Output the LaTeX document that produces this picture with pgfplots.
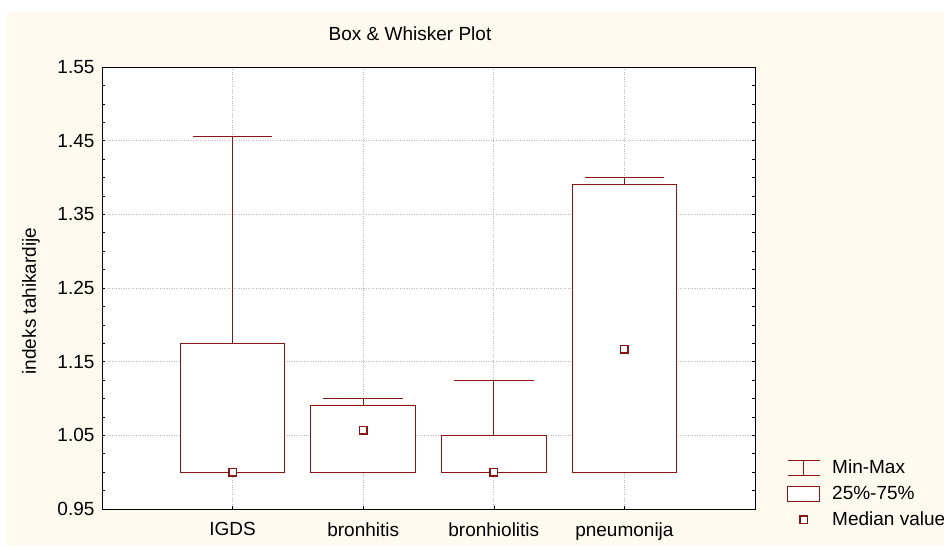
\documentclass[border=0pt]{standalone}
\usepackage{fontspec}
\setmainfont{Liberation Sans}
\usepackage{pgfplots}
\pgfplotsset{compat=1.18}
\usepgfplotslibrary{statistics}

\definecolor{bgcream}{RGB}{254,250,240}
\definecolor{boxred}{RGB}{140,20,20}
\definecolor{gridgray}{RGB}{185,185,185}

\newcommand{\chartfont}{\fontsize{19}{22}\selectfont}

\begin{document}
\begin{tikzpicture}
\useasboundingbox (0,0) rectangle (944pt,546pt);
\fill[bgcream] (7pt,0) rectangle (944pt,534pt);
\node[font=\chartfont] at (410pt,512pt) {Box \& Whisker Plot};
\node[font=\chartfont, rotate=90] at (31pt,245pt) {indeks tahikardije};

\begin{axis}[
    at={(102pt,37pt)}, anchor=south west,
    scale only axis, width=653pt, height=442pt,
    xmin=-1, xmax=4,
    ymin=0.95, ymax=1.55,
    xtick={0,1,2,3},
    xticklabels={IGDS,bronhitis,bronhiolitis,pneumonija},
    ytick={0.95,1.05,1.15,1.25,1.35,1.45,1.55},
    minor y tick num=3,
    xtick pos=bottom,
    tick align=inside,
    major tick length=3pt, minor tick length=3pt,
    tick style={black, line width=0.6pt},
    axis line style={black, line width=0.9pt},
    axis background/.style={fill=white},
    grid=major,
    major grid style={gridgray, dotted, line width=0.7pt},
    tick label style={font=\chartfont},
    /pgf/number format/assume math mode=true,
    yticklabel style={xshift=-4pt, /pgf/number format/.cd, fixed, fixed zerofill, precision=2},
    xticklabel style={yshift=-10pt},
    boxplot/draw direction=y,
    boxplot/box extend=0.8,
    boxplot/whisker extend=0.61,
    boxplot/every box/.style={fill=white},
    boxplot/draw/median/.code={},
    legend style={draw=none, fill=none, inner sep=0pt,
        at={(axis description cs:1.049,0.116)}, anchor=north west,
        font=\chartfont, row sep=7pt, column sep=10pt},
    legend cell align=left,
]

% boxes: min, q1, median, q3, max
\addplot[boxred, line width=1pt, forget plot,
    boxplot prepared={draw position=0, lower whisker=1.0, lower quartile=1.0,
        median=1.0, upper quartile=1.175, upper whisker=1.455}] coordinates {};
\addplot[boxred, line width=1pt, forget plot,
    boxplot prepared={draw position=1, lower whisker=1.0, lower quartile=1.0,
        median=1.057, upper quartile=1.09, upper whisker=1.10}] coordinates {};
\addplot[boxred, line width=1pt, forget plot,
    boxplot prepared={draw position=2, lower whisker=1.0, lower quartile=1.0,
        median=1.0, upper quartile=1.05, upper whisker=1.125}] coordinates {};
\addplot[boxred, line width=1pt, forget plot,
    boxplot prepared={draw position=3, lower whisker=1.0, lower quartile=1.0,
        median=1.167, upper quartile=1.39, upper whisker=1.40}] coordinates {};

\addlegendimage{legend image code/.code={
    \path[draw=none] (0pt,0pt) -- (32pt,0pt);
    \draw[boxred, line width=1pt] (0pt,7.5pt) -- (32pt,7.5pt)
        (0pt,-7.5pt) -- (32pt,-7.5pt) (16pt,-7.5pt) -- (16pt,7.5pt);}}
\addlegendentry{Min-Max}
\addlegendimage{legend image code/.code={
    \draw[boxred, line width=1pt, fill=white] (0pt,-7.5pt) rectangle (32pt,7.5pt);}}
\addlegendentry{25\%-75\%}

% medians
\addplot[only marks, mark=square*, mark size=3.8pt,
    mark options={draw=boxred, fill=white, line width=1.5pt},
    legend image code/.code={
        \path[draw=none] (0pt,0pt) -- (32pt,0pt);
        \draw[boxred, line width=1.5pt, fill=white] (12.2pt,-3.8pt) rectangle (19.8pt,3.8pt);}]
    coordinates {(0,1.0) (1,1.057) (2,1.0) (3,1.167)};
\addlegendentry{Median value}

\end{axis}
\end{tikzpicture}
\end{document}
